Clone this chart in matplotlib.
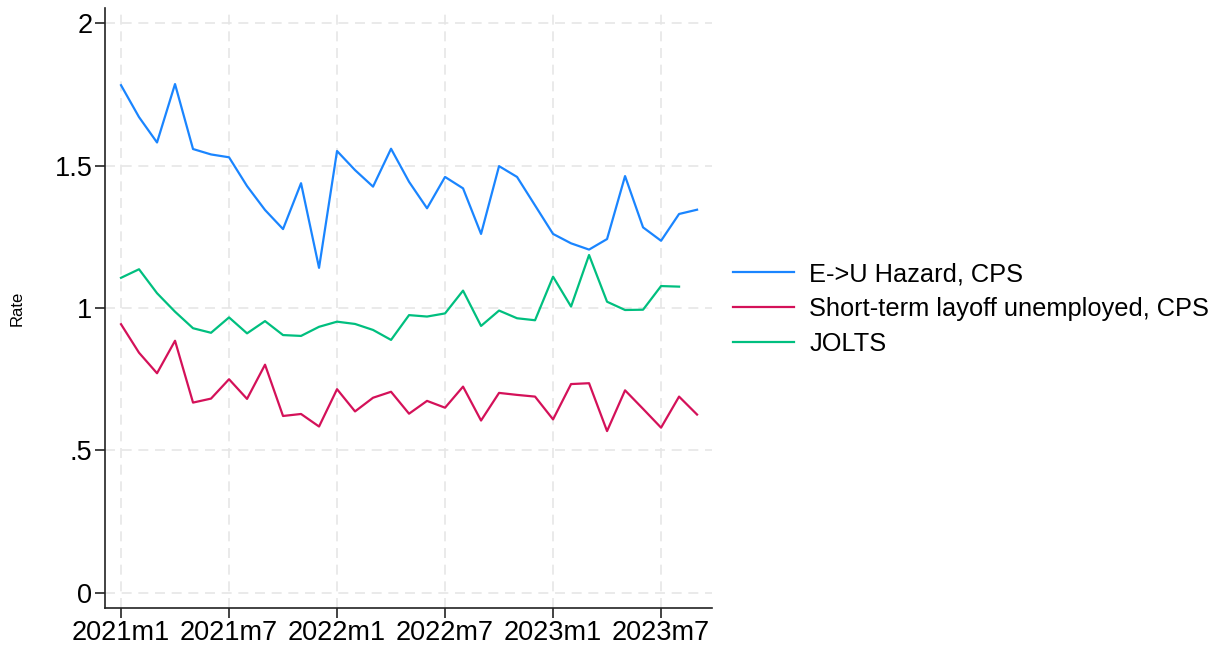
import matplotlib
matplotlib.use("Agg")
import matplotlib.pyplot as plt
import numpy as np

plt.rcParams['font.family'] = ['Liberation Sans', 'DejaVu Sans']

tick_labels = ["2021m1", "2021m7", "2022m1", "2022m7", "2023m1", "2023m7"]
tick_pos = [0, 6, 12, 18, 24, 30]

eu_hazard = [1.782, 1.670, 1.581, 1.786, 1.558, 1.539, 1.529, 1.428, 1.344, 1.277,
             1.438, 1.141, 1.551, 1.484, 1.426, 1.559, 1.443, 1.350, 1.460, 1.420,
             1.260, 1.498, 1.460, 1.360, 1.260, 1.227, 1.205, 1.242, 1.463, 1.283,
             1.236, 1.330, 1.345]
short_layoff = [0.943, 0.843, 0.771, 0.885, 0.668, 0.682, 0.750, 0.681, 0.801, 0.621,
                0.628, 0.584, 0.715, 0.637, 0.685, 0.706, 0.629, 0.674, 0.650, 0.724,
                0.605, 0.702, 0.695, 0.689, 0.609, 0.733, 0.736, 0.568, 0.711, 0.646,
                0.580, 0.689, 0.626]
jolts = [1.106, 1.136, 1.052, 0.987, 0.929, 0.913, 0.967, 0.911, 0.954, 0.905,
         0.902, 0.934, 0.952, 0.944, 0.923, 0.888, 0.975, 0.970, 0.981, 1.061,
         0.937, 0.991, 0.964, 0.957, 1.110, 1.005, 1.186, 1.022, 0.993, 0.994,
         1.077, 1.075]

labels = ["E->U Hazard, CPS", "Short-term layoff unemployed, CPS", "JOLTS"]
colors = ["#1a85ff", "#d41159", "#00bf7f"]

fig = plt.figure(figsize=(12.25, 6.46), dpi=100)
ax = fig.add_axes([105/1225, 1 - 608/646, (712-105)/1225, (608-8)/646])

for vals, lab, col in zip([eu_hazard, short_layoff, jolts], labels, colors):
    ax.plot(np.arange(len(vals)), vals, color=col, lw=1.6, label=lab)

ax.set_xlim(-0.89, 32.83)
ax.set_ylim(-0.053, 2.053)
ax.set_xticks(tick_pos)
ax.set_xticklabels(tick_labels, fontsize=19.5)
ax.set_yticks([0, 0.5, 1, 1.5, 2])
ax.set_yticklabels(["0", ".5", "1", "1.5", "2"], fontsize=19.5)
ax.set_ylabel("Rate", fontsize=12)
ax.yaxis.set_label_coords(-80/607, 0.5)

ax.grid(True, color="#e6e6e6", linestyle=(0, (6, 4)), lw=1.2)
ax.set_axisbelow(True)
for s in ["top", "right"]:
    ax.spines[s].set_visible(False)
for s in ["left", "bottom"]:
    ax.spines[s].set_color("#222222")
    ax.spines[s].set_linewidth(1.2)
ax.tick_params(axis="both", length=7, width=1.2, color="#222222", pad=2)

leg = fig.legend(loc="center left", bbox_to_anchor=(710/1225, 1 - 309/646),
                 frameon=False, fontsize=18.3, handlelength=2.4,
                 handletextpad=0.6, labelspacing=0.42)

fig.savefig("out.png", dpi=100)
